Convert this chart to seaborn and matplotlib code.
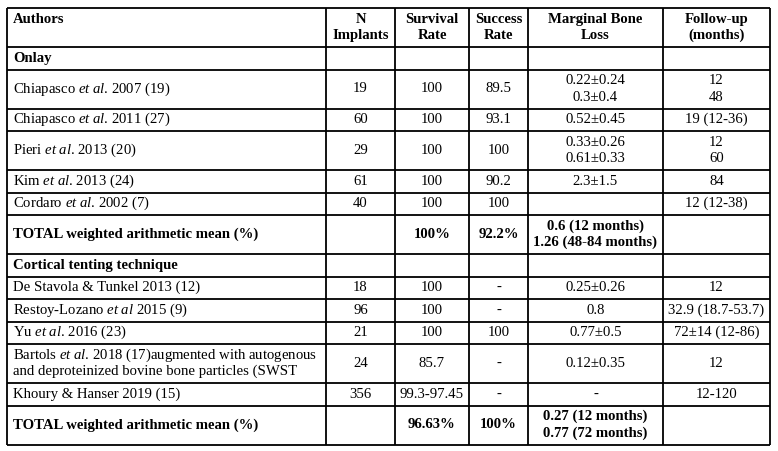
"""
Summary table: implant outcomes for onlay vs cortical tenting technique
"""
import matplotlib
matplotlib.use('Agg')
import matplotlib.pyplot as plt
import seaborn as sns

# Table content (one entry per row, multi-line cells use "\n")
headers = ['Authors', 'N\nImplants', 'Survival\nRate', 'Success\nRate',
           'Marginal Bone\nLoss', 'Follow-up\n(months)']

authors = [
    'Onlay',
    'Chiapasco $\\mathit{et\\ al}$. 2007 (19)',
    'Chiapasco $\\mathit{et\\ al}$. 2011 (27)',
    'Pieri $\\mathit{et\\ al}$. 2013 (20)',
    'Kim $\\mathit{et\\ al}$. 2013 (24)',
    'Cordaro $\\mathit{et\\ al}$. 2002 (7)',
    'TOTAL weighted arithmetic mean (%)',
    'Cortical tenting technique',
    'De Stavola & Tunkel 2013 (12)',
    'Restoy-Lozano $\\mathit{et\\ al}$ 2015 (9)',
    'Yu $\\mathit{et\\ al}$. 2016 (23)',
    'Bartols $\\mathit{et\\ al}$. 2018 (17)augmented with autogenous\n'
    'and deproteinized bovine bone particles (SWST',
    'Khoury & Hanser 2019 (15)',
    'TOTAL weighted arithmetic mean (%)',
]
n_implants = ['', '19', '60', '29', '61', '40', '', '', '18', '96', '21', '24', '356', '']
survival = ['', '100', '100', '100', '100', '100', '100%', '', '100', '100', '100',
            '85.7', '99.3-97.45', '96.63%']
success = ['', '89.5', '93.1', '100', '90.2', '100', '92.2%', '', '-', '-', '100',
           '-', '-', '100%']
bone_loss = ['', '0.22±0.24\n0.3±0.4', '0.52±0.45', '0.33±0.26\n0.61±0.33', '2.3±1.5', '',
             '0.6 (12 months)\n1.26 (48-84 months)', '', '0.25±0.26', '0.8', '0.77±0.5',
             '0.12±0.35', '-', '0.27 (12 months)\n0.77 (72 months)']
followup = ['', '12\n48', '19 (12-36)', '12\n60', '84', '12 (12-38)', '', '', '12',
            '32.9 (18.7-53.7)', '72±14 (12-86)', '12', '12-120', '']
bold_rows = [0, 6, 7, 13]

# layout (pixels)
W, H = 778, 451
col_edges = [7, 326, 395, 469, 528, 663, 770]
top = 8
line_h = 16.5
pad_h = 6.0
fs = 10.6

sns.set_theme(style='white')
plt.rcParams['font.family'] = ['Liberation Serif', 'DejaVu Serif']
plt.rcParams['mathtext.fontset'] = 'custom'
plt.rcParams['mathtext.rm'] = 'Liberation Serif'
plt.rcParams['mathtext.it'] = 'Liberation Serif:italic'
plt.rcParams['mathtext.bf'] = 'Liberation Serif:bold'

fig = plt.figure(figsize=(W / 100, H / 100), dpi=100)
ax = fig.add_axes([0, 0, 1, 1])
ax.set_xlim(0, W)
ax.set_ylim(H, 0)
ax.axis('off')

columns = list(zip(authors, n_implants, survival, success, bone_loss, followup))
rows = [tuple(headers)] + columns


def n_lines(row):
    return max(c.count('\n') + 1 for c in row)


# row edges from line counts
row_edges = [top]
for r in rows:
    row_edges.append(row_edges[-1] + pad_h + line_h * n_lines(r))


def draw_cell(text, ci, y0, y1, bold, align_top=False, nrow=1):
    lines = text.split('\n')
    mid = (y0 + y1) / 2
    if align_top:
        first = mid - line_h * (nrow - 1) / 2
    else:
        first = mid - line_h * (len(lines) - 1) / 2
    for k, ln in enumerate(lines):
        y = first + k * line_h
        if ci == 0:
            x, ha = col_edges[0] + 6, 'left'
        else:
            x, ha = (col_edges[ci] + col_edges[ci + 1]) / 2, 'center'
        ax.text(x, y, ln, ha=ha, va='center', fontsize=fs,
                fontweight='bold' if bold else 'normal', color='black')


for ri, row in enumerate(rows):
    y0, y1 = row_edges[ri], row_edges[ri + 1]
    is_header = ri == 0
    bold = is_header or (ri - 1) in bold_rows
    for ci, cell in enumerate(row):
        if not cell:
            continue
        draw_cell(cell, ci, y0, y1, bold,
                  align_top=(is_header and ci == 0), nrow=n_lines(row))

# grid lines
lw = 1.3
ax.hlines(row_edges, col_edges[0], col_edges[-1], colors='black', linewidth=lw)
ax.vlines(col_edges, row_edges[0], row_edges[-1], colors='black', linewidth=lw)

fig.savefig('out.png', dpi=100, facecolor='white')
